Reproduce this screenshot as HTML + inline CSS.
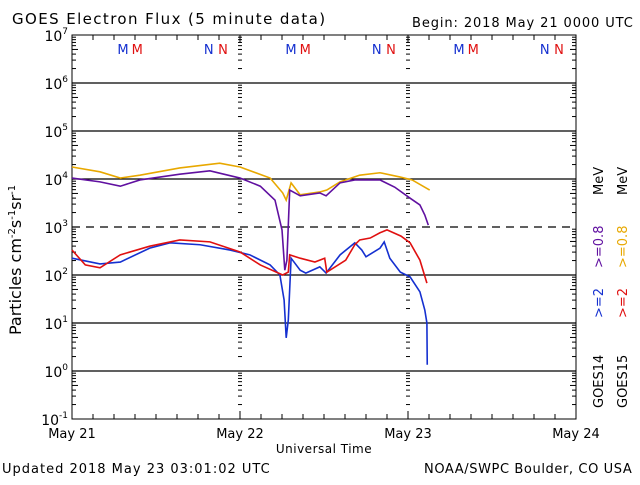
<!DOCTYPE html>
<html><head><meta charset="utf-8"><style>
body{margin:0;background:#fff;width:640px;height:480px;overflow:hidden}
svg text{font-family:"DejaVu Sans","Liberation Sans",sans-serif}
</style></head><body>
<svg id="c" width="640" height="480" xmlns="http://www.w3.org/2000/svg">
<text x="12" y="24" font-size="15" letter-spacing="1.4">GOES Electron Flux (5 minute data)</text>
<text x="412" y="27" font-size="13" letter-spacing="0.9">Begin: 2018 May 21 0000 UTC</text>
<text x="2" y="473" font-size="13" letter-spacing="1">Updated 2018 May 23 03:01:02 UTC</text>
<text x="424" y="473" font-size="13" letter-spacing="0.6">NOAA/SWPC Boulder, CO USA</text>
<text x="324" y="453" font-size="12" letter-spacing="0.5" text-anchor="middle">Universal Time</text>
<text transform="translate(21,335) rotate(-90)" font-size="16">Particles cm<tspan dy="-6" font-size="10">-2</tspan><tspan dy="6">s</tspan><tspan dy="-6" font-size="10">-1</tspan><tspan dy="6">sr</tspan><tspan dy="-6" font-size="10">-1</tspan></text>
<g id="grid"></g><g id="series"></g>
<g font-size="13">
<text transform="translate(603,408) rotate(-90)" fill="#000">GOES14</text>
<text transform="translate(603,318) rotate(-90)" fill="#1530d0">&gt;=2</text>
<text transform="translate(603,268) rotate(-90)" fill="#6010a0">&gt;=0.8</text>
<text transform="translate(603,195) rotate(-90)" fill="#000">MeV</text>
<text transform="translate(627,408) rotate(-90)" fill="#000">GOES15</text>
<text transform="translate(627,318) rotate(-90)" fill="#e01010">&gt;=2</text>
<text transform="translate(627,268) rotate(-90)" fill="#e8a800">&gt;=0.8</text>
<text transform="translate(627,195) rotate(-90)" fill="#000">MeV</text>
</g>
</svg>
<script>
const dayLabels=["May 21","May 22","May 23","May 24"];
const yExp=[7,6,5,4,3,2,1,0,-1];
const g15LowH=[0,4,6.9,9.7,15.4,21.1,24,28.3,30.1,30.6,31.3,32.6,35.4,36.4,38.3,41.1,44,46.9,48.6,51.1];
const g15LowV=[4.25,4.15,4.02,4.08,4.23,4.33,4.25,4.02,3.71,3.56,3.92,3.67,3.73,3.77,3.94,4.08,4.13,4.04,3.98,3.77];
const g14LowH=[0,4,6.9,9.7,15.4,19.7,24,26.9,29,30,30.4,30.7,31.1,32.6,35.4,36.3,38.3,40.4,44,46.1,48.3,49.7,50.4,50.9];
const g14LowV=[4.02,3.94,3.85,3.98,4.10,4.17,4.02,3.85,3.56,2.94,2.10,2.31,3.77,3.65,3.71,3.65,3.92,3.98,3.98,3.83,3.60,3.46,3.25,3.04];
const g15HighH=[0,1.9,4,6.9,11.1,15.4,19.7,24,26.9,30.1,30.9,31.1,32.6,34.7,36.1,36.4,39.1,40.4,41.1,42.6,44,45,47,48.3,49.7,50.7];
const g15HighV=[2.52,2.21,2.15,2.42,2.60,2.73,2.69,2.48,2.21,2.0,2.06,2.42,2.35,2.27,2.35,2.06,2.31,2.63,2.73,2.77,2.88,2.94,2.81,2.67,2.31,1.83];
const g14HighH=[0,4,6.9,11.1,14,18.3,22.6,25.4,28.3,29.7,30.3,30.6,30.9,31.3,32.6,33.4,35.4,36.3,38.3,40.4,41.4,42,44,44.6,45.4,46.9,48.3,49.7,50.4,50.7,50.75];
const g14HighV=[2.35,2.23,2.27,2.56,2.67,2.63,2.52,2.42,2.21,2.0,1.48,0.69,1.06,2.35,2.10,2.04,2.17,2.04,2.42,2.67,2.52,2.38,2.56,2.69,2.35,2.06,1.96,1.65,1.27,1.0,0.13];
const L=72,R=576,T=35,B=419;
const xs=h=>L+h*(R-L)/72;
const ys=v=>T+(7-v)*(B-T)/8;
const NS="http://www.w3.org/2000/svg";
const grid=document.getElementById('grid'),ser=document.getElementById('series');
function mk(t,a,p){const e=document.createElementNS(NS,t);for(const k in a)e.setAttribute(k,a[k]);p.appendChild(e);return e;}
const frame=mk('rect',{x:L,y:T,width:R-L,height:B-T,fill:'none',stroke:'#000','stroke-width':1},grid);


yExp.forEach(e=>{
  const y=ys(e);
  if(e<7&&e>-1){const ln=mk('line',{x1:L,x2:R,y1:y,y2:y,stroke:'#000','stroke-width':1.3,'stroke-dasharray':e===3?'8,6':''},grid);
  
  }
  const t=mk('text',{x:L-4,y:y+6,'font-size':14,'text-anchor':'end'},grid);
  t.innerHTML='10<tspan dy="-7" font-size="9">'+e+'</tspan>';
  
  
  if(e>-1){for(let k=2;k<10;k++){const yy=ys(e-1+Math.log10(k));
    [L,xs(24),xs(48),R].forEach((x,i)=>{const w=(i===0||i===3)?(k===5?6:4):4;
      const x1=i===3?x-w:(i===0?x:x-2);
      mk('line',{x1:x1,x2:x1+w,y1:yy,y2:yy,stroke:'#000','stroke-width':1},grid);});}}
});
dayLabels.forEach((d,i)=>{const x=xs(i*24);
  const t=mk('text',{x:x,y:438,'font-size':13,'text-anchor':'middle'},grid);t.textContent=d;
  
  
  for(let h=3;h<24&&i<3;h+=3){const xx=xs(i*24+h);mk('line',{x1:xx,x2:xx,y1:B,y2:B-5,stroke:'#000'},grid);mk('line',{x1:xx,x2:xx,y1:T,y2:T+5,stroke:'#000'},grid);}
  if(i>0&&i<3){mk('line',{x1:x,x2:x,y1:B,y2:B-8,stroke:'#000'},grid);mk('line',{x1:x,x2:x,y1:T,y2:T+8,stroke:'#000'},grid);}
});
const marks=[["M",0.27,'#1530d0'],["M",0.355,'#e01010'],["N",0.785,'#1530d0'],["N",0.87,'#e01010']];
[0,1,2].forEach(d=>marks.forEach(m=>{const t=mk('text',{x:L+(d+m[1])*168,y:54,'font-size':13,fill:m[2]},grid);t.textContent=m[0];
  
  }));
function line(H,V,c,n){const p=mk('polyline',{points:H.map((h,i)=>xs(h)+','+ys(V[i])).join(' '),fill:'none',stroke:c,'stroke-width':1.6},ser);
  
  }
line(g15LowH,g15LowV,'#e8a800','goes15-0.8mev-line');
line(g14LowH,g14LowV,'#6010a0','goes14-0.8mev-line');
line(g14HighH,g14HighV,'#1530d0','goes14-2mev-line');
line(g15HighH,g15HighV,'#e01010','goes15-2mev-line');
</script>
</body></html>
